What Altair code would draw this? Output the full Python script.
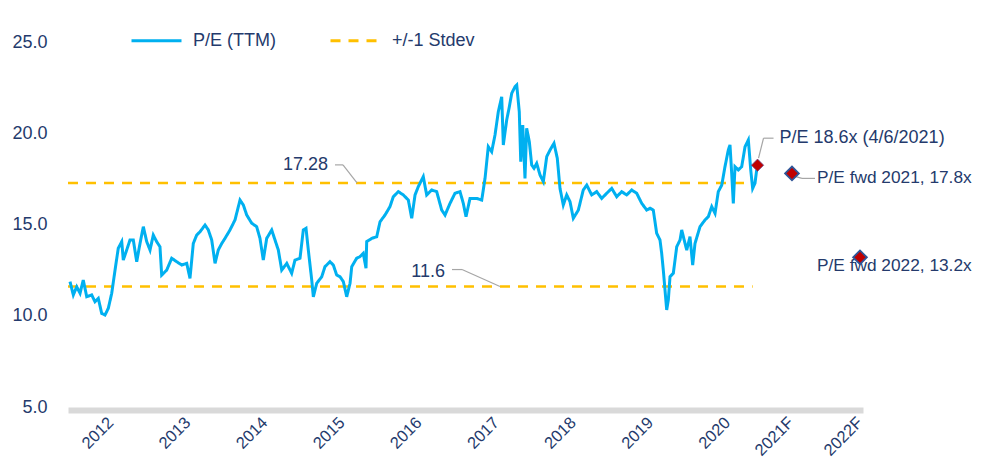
import altair as alt
import pandas as pd

# ---------------- data ----------------
T = [2011.446, 2011.489, 2011.533, 2011.576, 2011.618, 2011.663, 2011.727, 2011.770, 2011.813, 2011.857,
     2011.900, 2011.943, 2011.987, 2012.030, 2012.072, 2012.117, 2012.137, 2012.181, 2012.224, 2012.267,
     2012.311, 2012.354, 2012.397, 2012.441, 2012.484, 2012.526, 2012.570, 2012.613, 2012.635, 2012.700,
     2012.765, 2012.830, 2012.895, 2012.960, 2013.002, 2013.045, 2013.089, 2013.132, 2013.197, 2013.240,
     2013.284, 2013.327, 2013.369, 2013.414, 2013.456, 2013.521, 2013.586, 2013.651, 2013.694, 2013.738,
     2013.803, 2013.867, 2013.910, 2013.953, 2013.997, 2014.062, 2014.105, 2014.148, 2014.192, 2014.257,
     2014.321, 2014.364, 2014.429, 2014.472, 2014.507, 2014.537, 2014.581, 2014.602, 2014.646, 2014.711,
     2014.753, 2014.818, 2014.861, 2014.905, 2014.948, 2014.991, 2015.035, 2015.078, 2015.100, 2015.164,
     2015.207, 2015.250, 2015.285, 2015.294, 2015.359, 2015.424, 2015.467, 2015.532, 2015.596, 2015.639,
     2015.704, 2015.769, 2015.834, 2015.878, 2015.921, 2015.963, 2016.028, 2016.072, 2016.137, 2016.202,
     2016.267, 2016.310, 2016.375, 2016.439, 2016.504, 2016.547, 2016.582, 2016.634, 2016.721, 2016.786,
     2016.829, 2016.871, 2016.915, 2016.958, 2017.001, 2017.045, 2017.066, 2017.110, 2017.144, 2017.175,
     2017.218, 2017.240, 2017.273, 2017.292, 2017.318, 2017.347, 2017.369, 2017.403, 2017.434, 2017.464,
     2017.499, 2017.542, 2017.585, 2017.629, 2017.672, 2017.723, 2017.766, 2017.801, 2017.844, 2017.888,
     2017.931, 2017.974, 2018.039, 2018.103, 2018.148, 2018.212, 2018.277, 2018.342, 2018.407, 2018.472,
     2018.537, 2018.601, 2018.666, 2018.731, 2018.796, 2018.861, 2018.926, 2018.969, 2019.011, 2019.055,
     2019.098, 2019.120, 2019.141, 2019.163, 2019.185, 2019.206, 2019.228, 2019.271, 2019.315, 2019.358,
     2019.380, 2019.423, 2019.445, 2019.487, 2019.522, 2019.552, 2019.617, 2019.682, 2019.725, 2019.769,
     2019.812, 2019.854, 2019.899, 2019.941, 2019.984, 2020.006, 2020.028, 2020.049, 2020.071, 2020.114,
     2020.158, 2020.201, 2020.244, 2020.275, 2020.300, 2020.330, 2020.352]

PE = [11.87, 11.14, 11.59, 11.23, 11.96, 11.04, 11.14, 10.77, 10.95, 10.13,
      10.04, 10.41, 11.23, 12.50, 13.70, 14.06, 13.05, 13.60, 14.15, 14.15,
      12.96, 13.96, 14.88, 14.06, 13.60, 14.42, 14.06, 13.78, 12.23, 12.50,
      13.15, 12.96, 12.78, 12.87, 12.05, 13.96, 14.42, 14.60, 14.97, 14.70,
      14.15, 12.87, 13.60, 13.96, 14.24, 14.70, 15.25, 16.34, 16.07, 15.52,
      15.07, 14.88, 14.24, 13.05, 14.24, 14.70, 14.15, 13.60, 12.50, 12.87,
      12.33, 13.05, 13.15, 14.70, 14.79, 13.60, 11.96, 11.04, 11.78, 12.14,
      12.69, 12.96, 12.78, 12.23, 12.14, 11.87, 11.04, 11.78, 12.69, 13.15,
      13.24, 13.42, 12.60, 14.06, 14.24, 14.33, 15.15, 15.52, 15.98, 16.52,
      16.80, 16.62, 16.34, 15.34, 16.62, 17.07, 17.62, 16.62, 16.89, 16.80,
      15.79, 15.52, 16.16, 16.71, 16.80, 16.16, 15.43, 16.43, 16.43, 16.34,
      17.53, 19.26, 18.99, 19.90, 21.18, 22.00, 19.36, 20.73, 21.45, 22.19,
      22.55, 22.64, 21.18, 18.44, 20.45, 17.53, 20.27, 19.54, 18.26, 18.08,
      18.35, 17.71, 17.35, 18.72, 19.08, 19.45, 18.63, 16.98, 16.07, 16.62,
      16.25, 15.34, 15.79, 16.89, 17.16, 16.62, 16.80, 16.43, 16.71, 16.98,
      16.52, 16.80, 16.62, 16.89, 16.71, 16.16, 15.79, 15.89, 15.79, 14.52,
      14.15, 13.42, 12.50, 11.41, 10.32, 10.86, 12.14, 12.33, 13.78, 14.15,
      14.70, 13.96, 13.60, 14.33, 12.78, 13.96, 14.88, 15.25, 15.43, 15.98,
      15.61, 16.80, 17.16, 18.17, 19.08, 19.36, 17.80, 16.16, 18.17, 17.99,
      18.17, 19.26, 19.63, 17.99, 16.98, 17.26, 17.99]

SERIES = ["P/E (TTM)", "+/-1 Stdev"]
STDEV_LEVELS = [17.28, 11.6]
STDEV_T0, STDEV_T1 = 2011.42, 2020.30

TICK_POS = [2012, 2013, 2014, 2015, 2016, 2017, 2018, 2019, 2020, 2020.823, 2021.718]
TICK_LABELS = ["2012", "2013", "2014", "2015", "2016", "2017", "2018", "2019", "2020", "2021F", "2022F"]

CUR_T, CUR_PE, CUR_LABEL = 2020.363, 18.25, "P/E 18.6x (4/6/2021)"
FWD_T = [2020.81, 2021.692]
FWD_PE = [17.8, 13.2]
FWD_LABELS = ["P/E fwd 2021, 17.8x", "P/E fwd 2022, 13.2x"]

X_DOMAIN = [2011.42, 2021.731]
Y_DOMAIN = [5, 25]

# ---------------- styles ----------------
NAVY = "#243a6c"
BLUE = "#00b0f0"
GOLD = "#ffc000"
RED = "#c00000"
EDGE = "#2f5597"
GRAY = "#a6a6a6"
FONT = "Liberation Sans"
FS = 18

line_df = pd.DataFrame({"t": T, "pe": PE, "series": SERIES[0]})
std_df = pd.DataFrame({"t0": STDEV_T0, "t1": STDEV_T1, "lvl": STDEV_LEVELS, "series": SERIES[1]})

label_expr = " : ".join(
    f"abs(datum.value - {p}) < 0.01 ? '{l}'" for p, l in zip(TICK_POS, TICK_LABELS)
) + " : ''"

x_scale = alt.Scale(domain=X_DOMAIN, nice=False, zero=False)
y_scale = alt.Scale(domain=Y_DOMAIN, nice=False, zero=False)

x_axis = alt.Axis(values=TICK_POS, labelExpr=label_expr, title=None, grid=False, ticks=False,
                  domainColor="#d9d9d9", domainWidth=6, offset=3, labelAngle=-45,
                  labelAlign="right", labelBaseline="top", labelPadding=4, labelOffset=-8,
                  labelFontSize=16.5, labelColor=NAVY, labelFont=FONT, labelOverlap=False,
                  labelFlush=False)
y_axis = alt.Axis(values=[5, 10, 15, 20, 25], format=".1f", title=None, grid=False, ticks=False,
                  domain=False, labelPadding=21, labelFontSize=FS, labelColor=NAVY, labelFont=FONT)

legend = alt.Legend(title=None, orient="none", legendX=62, legendY=-28, direction="horizontal",
                    symbolType="stroke", symbolSize=2500, symbolStrokeWidth=3,
                    labelFontSize=FS, labelColor=NAVY, labelFont=FONT, labelOffset=10,
                    columnPadding=48, padding=0)

color = alt.Color("series:N", scale=alt.Scale(domain=SERIES, range=[BLUE, GOLD]), legend=legend)
dash = alt.StrokeDash("series:N", scale=alt.Scale(domain=SERIES, range=[[1, 0], [10, 8]]), legend=legend)

line = alt.Chart(line_df).mark_line(strokeWidth=3).encode(
    x=alt.X("t:Q", scale=x_scale, axis=x_axis),
    y=alt.Y("pe:Q", scale=y_scale, axis=y_axis),
    color=color, strokeDash=dash,
)

std = alt.Chart(std_df).mark_rule(strokeWidth=2.5).encode(
    x=alt.X("t0:Q", scale=x_scale),
    x2="t1:Q",
    y=alt.Y("lvl:Q", scale=y_scale),
    color=color, strokeDash=dash,
)


def leader(df, segs):
    layers = []
    for (ax, ay, bx, by) in segs:
        layers.append(alt.Chart(df).mark_rule(color=GRAY, strokeWidth=1.2,
                                              xOffset=ax, yOffset=ay, x2Offset=bx, y2Offset=by).encode(
            x=alt.X("t:Q", scale=x_scale), x2="t:Q",
            y=alt.Y("v:Q", scale=y_scale), y2="v:Q"))
    return layers


def label(df, align, dx, dy, fs=FS):
    return alt.Chart(df).mark_text(align=align, baseline="middle", dx=dx, dy=dy, fontSize=fs,
                                   font=FONT, color=NAVY).encode(
        x=alt.X("t:Q", scale=x_scale), y=alt.Y("v:Q", scale=y_scale), text="txt:N")


# stdev labels, anchored on the dashed lines
hi_df = pd.DataFrame({"t": [2015.168], "v": [STDEV_LEVELS[0]], "txt": [f"{STDEV_LEVELS[0]:.2f}"]})
lo_df = pd.DataFrame({"t": [2017.023], "v": [STDEV_LEVELS[1]], "txt": [f"{STDEV_LEVELS[1]:.1f}"]})
cur_df = pd.DataFrame({"t": [CUR_T], "v": [CUR_PE], "txt": [CUR_LABEL]})
f21_df = pd.DataFrame({"t": [FWD_T[0]], "v": [FWD_PE[0]], "txt": [FWD_LABELS[0]]})
f22_df = pd.DataFrame({"t": [FWD_T[1]], "v": [FWD_PE[1]], "txt": [FWD_LABELS[1]]})
fwd_df = pd.DataFrame({"t": FWD_T, "v": FWD_PE})

layers = [std, line]
layers += leader(hi_df, [(0, 0, -14, -18), (-14, -18, -22, -18)])
layers += [label(hi_df, "right", -29, -18)]
layers += leader(lo_df, [(0, 0, -38, -17), (-38, -17, -48, -17)])
layers += [label(lo_df, "right", -55, -15)]
layers += leader(cur_df, [(1, -7, 6, -27), (6, -27, 16, -27)])
layers += [label(cur_df, "left", 22, -27)]
layers += leader(f21_df, [(3, 3, 10, 5), (10, 5, 23, 5)])
layers += [label(f21_df, "left", 25, 5, 17.3), label(f22_df, "left", -43, 9, 17.3)]

fwd_pts = alt.Chart(fwd_df).mark_point(shape="diamond", filled=True, size=190, fill=RED,
                                       stroke=EDGE, strokeWidth=1.8, opacity=1).encode(
    x=alt.X("t:Q", scale=x_scale), y=alt.Y("v:Q", scale=y_scale))
cur_pt = alt.Chart(cur_df).mark_point(shape="diamond", filled=True, size=150, fill=RED,
                                      stroke="#6a4a8a", strokeWidth=0.8, opacity=1).encode(
    x=alt.X("t:Q", scale=x_scale), y=alt.Y("v:Q", scale=y_scale))
layers += [fwd_pts, cur_pt]

chart = alt.layer(*layers).properties(
    width=795, height=365,
    autosize=alt.AutoSizeParams(type="none"),
    padding={"left": 60, "top": 34, "right": 112, "bottom": 51},
).configure_view(stroke=None)

chart.save("out.html", embed_options={"renderer": "svg", "actions": False})
